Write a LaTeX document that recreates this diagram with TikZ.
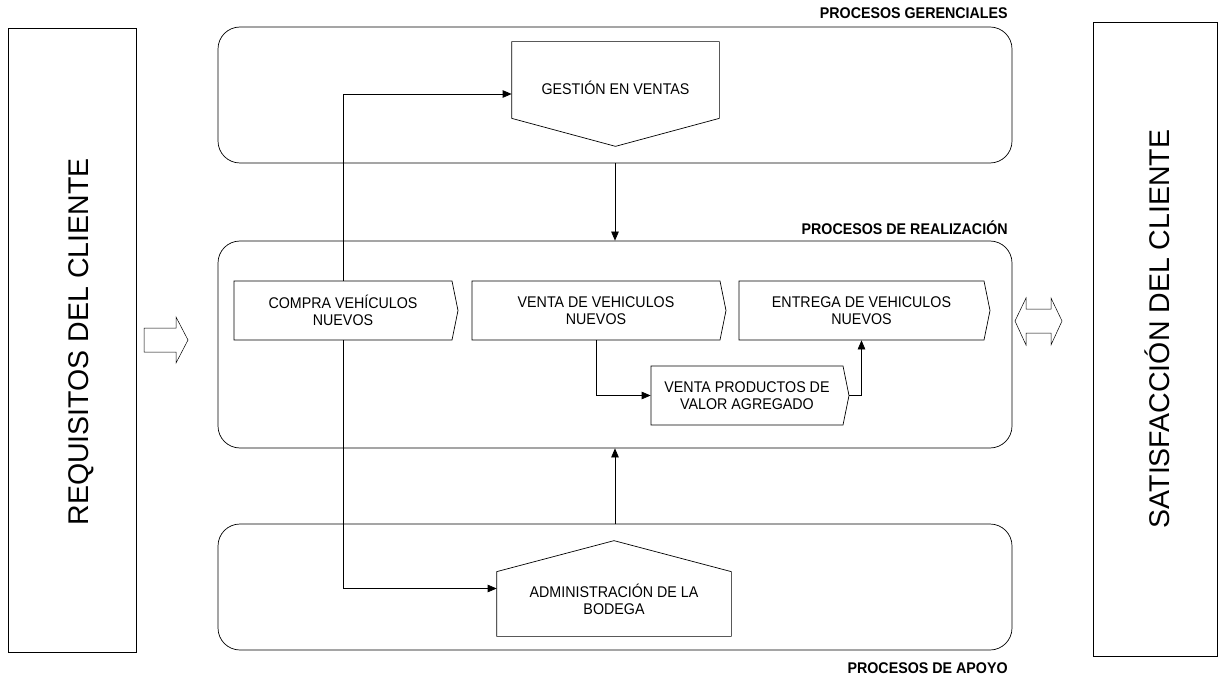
\documentclass[tikz,border=0pt]{standalone}
\usepackage{fontspec}
\setmainfont{Liberation Sans}
\newfontfamily\narrowfont{Liberation Sans}[FakeStretch=0.92]
\usetikzlibrary{shapes.symbols,arrows.meta,positioning}

\tikzset{
  zona/.style={draw, rounded corners=22pt, minimum width=794pt},
  lado/.style={rotate=90, inner sep=0pt, font=\fontsize{28.5}{32}\selectfont},
  texto/.style={inner sep=0pt, align=center, font=\narrowfont\fontsize{15.5}{17.5}\selectfont},
  proceso/.style={signal, signal to=east, signal pointer angle=157, draw, fill=white,
    minimum height=59pt, texto},
  cuerpo/.style={inner sep=0pt},
  etiqueta/.style={anchor=east, inner sep=0pt, font=\narrowfont\bfseries\fontsize{15.5}{17}\selectfont},
  flecha/.style={-{Triangle[length=9pt,width=7.5pt]}},
  hueca/.style={draw, line width=0.5pt, fill=white}
}

\begin{document}
\begin{tikzpicture}[x=1pt,y=-1pt,line width=0.7pt]
\useasboundingbox (0,0) rectangle (1224,679);

% cliente
\node[draw, minimum width=128pt, minimum height=624pt] (requisitos) at (72,340) {};
\node[lado] (treq) at (81,342) {REQUISITOS DEL CLIENTE};
\node[draw, minimum width=124pt, minimum height=634pt] (satisfaccion) at (1155,339) {};
\node[lado] (tsat) at (1157,329) {SATISFACCIÓN DEL CLIENTE};

% zonas
\node[zona, minimum height=136pt] (gerencia) at (615,95) {};
\node[zona, minimum height=207pt] (realizacion) at (615,344.5) {};
\node[zona, minimum height=126pt] (apoyo) at (615,587) {};
\node[etiqueta] (lger) at (1008,13) {PROCESOS GERENCIALES};
\node[etiqueta] (lrea) at (1008,228) {PROCESOS DE REALIZACIÓN};
\node[etiqueta] (lapo) at (1008,668) {PROCESOS DE APOYO};

% gestion (punta abajo)
\node[cuerpo, minimum width=207pt, minimum height=104pt] (gestion) at (615.5,94) {};
\draw[fill=white] (gestion.north west) -- (gestion.north east) -- ([yshift=28pt]gestion.south east)
  -- (gestion.south) -- ([yshift=28pt]gestion.south west) -- cycle;
\node[texto] (tgestion) at ([yshift=6pt]gestion.center) {GESTIÓN EN VENTAS};

% realizacion
\node[proceso, minimum width=224pt] (compra) at (343,310.5) {COMPRA VEHÍCULOS\\NUEVOS};
\node[proceso, minimum width=254pt] (venta) at (596,310.5) {VENTA DE VEHICULOS\\NUEVOS};
\node[proceso, minimum width=251pt] (entrega) at (861.5,310.5) {ENTREGA DE VEHICULOS\\NUEVOS};
\node[proceso, minimum width=198pt] (valor) at (747,395.5) {VENTA PRODUCTOS DE\\VALOR AGREGADO};

% bodega (punta arriba)
\node[cuerpo, minimum width=234pt, minimum height=95pt] (bodega) at (614,588.5) {};
\draw[fill=white] (bodega.south west) -- (bodega.south east) -- ([yshift=-31pt]bodega.north east)
  -- (bodega.north) -- ([yshift=-31pt]bodega.north west) -- cycle;
\node[texto] (tbodega) at ([yshift=-11pt]bodega.center) {ADMINISTRACIÓN DE LA\\BODEGA};

% conectores
\draw[flecha] (gerencia.south) -- (realizacion.north);
\draw[flecha] (apoyo.north) -- (realizacion.south);
\draw[flecha] (compra.north) |- (gestion.west);
\draw[flecha] (compra.south) |- (bodega.west);
\draw[flecha] (venta.south) |- (valor.west);
\draw[flecha] (valor.east) -| (entrega.south);

% flechas huecas
\draw[hueca] (144,328) -- (176,328) -- (176,317) -- (188,340) -- (176,363) -- (176,352) -- (144,352) -- cycle;
\draw[hueca] (1015,321) -- (1026,298) -- (1026,309) -- (1051,309) -- (1051,298) -- (1062,321)
  -- (1051,345) -- (1051,333) -- (1026,333) -- (1026,345) -- cycle;
\end{tikzpicture}
\end{document}
